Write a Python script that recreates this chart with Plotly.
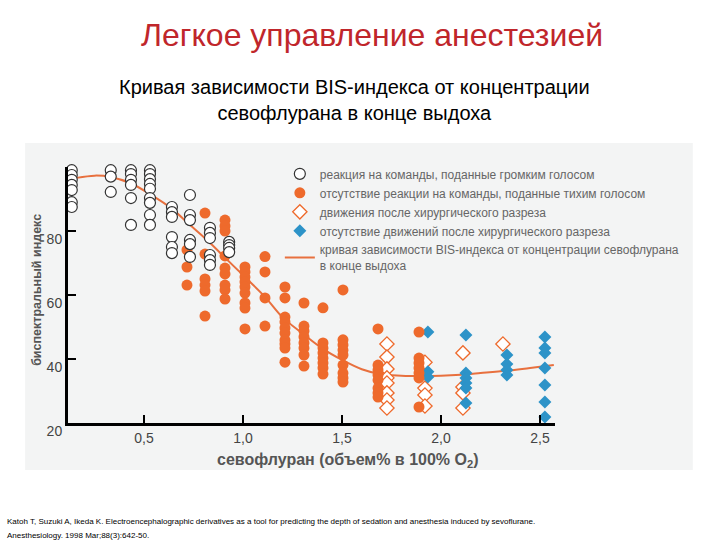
import plotly.graph_objects as go

# ---- data ----
open_x = [0.135]*7 + [0.332]*3 + [0.434]*6 + [0.53]*9 + [0.641]*6 + [0.732]*6 + [0.833]*6 + [0.93]*4
open_y = [99, 97.5, 96, 94.4, 92.8, 89, 87.5,
          99, 97, 92.2,
          99, 97.8, 96, 94.4, 90.3, 81.9,
          99, 97.8, 96.2, 94.7, 93.2, 90.3, 88.8, 85, 81.9,
          87.5, 85.9, 84.4, 78.1, 75, 73.1,
          91.25, 85, 83.4, 77.2, 75.9, 71.9,
          81, 79.4, 77.8, 72.5, 70.9, 69.4,
          76.6, 75.6, 74.7, 73.4]

fill_x = ([0.717]*3 + [0.808]*6 + [0.909]*9 + [1.01]*9 + [1.111]*4 + [1.212]*10 +
          [1.308]*8 + [1.404]*8 + [1.505]*9 + [1.682]*8 + [1.889]*7)
fill_y = [74.1, 68.75, 63.1,
          85.6, 72.8, 65, 63.1, 61.25, 53.4,
          83.4, 81.6, 80, 72.2, 68.4, 66.6, 63.1, 61.6, 58.75,
          68.75, 67.2, 65.6, 64.1, 62.5, 60.6, 57.5, 55.9, 49.4,
          72, 67.2, 59.1, 50.3,
          62.5, 59.1, 53.1, 51.6, 49.7, 48.1, 45.9, 44.7, 43.4, 39,
          57.5, 50.3, 48.75, 46.9, 45, 43.4, 41.25, 37.8,
          56, 45, 43.4, 41.9, 40.3, 38.75, 37.2, 35.3,
          61.6, 46, 44.4, 42.8, 41.25, 38.1, 35.6, 34.1, 32.8,
          49.4, 38.1, 36.6, 35, 33.4, 30.9, 29.4, 28.1,
          48.4, 40.3, 38.75, 37.2, 35.6, 34.1, 25]

odia_x = [1.727]*8 + [1.919]*4 + [2.111]*4 + [2.313]
odia_y = [44.7, 40.6, 36.9, 34.1, 32.5, 29.4, 27.2, 24.7,
          39, 30.9, 28.75, 25.3,
          41.9, 31.25, 29.4, 24.7,
          44.7]

blue_x = [1.934]*3 + [2.126]*6 + [2.333]*4 + [2.525]*7
blue_y = [48.4, 36, 34.4,
          47.5, 35.6, 34.1, 32.5, 30.9, 26.25,
          41.25, 38.4, 36.6, 35,
          46.9, 43.4, 41.9, 37.2, 31.9, 26.6, 21.9]

curve_x = [0.16, 0.25, 0.33, 0.43, 0.53, 0.64, 0.73, 0.83, 0.92, 1.01, 1.11, 1.2, 1.3,
           1.4, 1.5, 1.6, 1.7, 1.8, 1.9, 2.0, 2.1, 2.2, 2.33, 2.45, 2.57]
curve_y = [96.6, 97.3, 96.9, 95, 91.5, 87, 82, 76.5, 71, 65.6, 59.5, 53, 48,
           43.3, 39.7, 36.8, 35.2, 34.8, 34.7, 34.8, 35.1, 35.6, 36.3, 37.2, 38.1]

y_ticks = [20, 40, 60, 80, 100]
y_ticktext = ["20", "40", "60", "80", ""]
x_ticks = [0.5, 1.0, 1.5, 2.0, 2.5]
x_ticktext = ["0,5", "1,0", "1,5", "2,0", "2,5"]

names = ["реакция на команды, поданные громким голосом",
         "отсутствие реакции на команды, поданные тихим голосом",
         "движения после хирургического разреза",
         "отсутствие движений после хирургического разреза",
         "кривая зависимости BIS-индекса от концентрации севофлурана<br>в конце выдоха"]

ORANGE = "#ee6a2c"
BLUE = "#2d93c8"

fig = go.Figure()
fig.add_trace(go.Scatter(x=curve_x, y=curve_y, mode="lines", name=names[4], legendrank=5,
                         line=dict(color="#e8703e", width=2, shape="spline"), cliponaxis=False))
fig.add_trace(go.Scatter(x=odia_x, y=odia_y, mode="markers", name=names[2], legendrank=3,
                         marker=dict(symbol="diamond", size=11, color="white",
                                     line=dict(color=ORANGE, width=1.3)), cliponaxis=False))
fig.add_trace(go.Scatter(x=blue_x, y=blue_y, mode="markers", name=names[3], legendrank=4,
                         marker=dict(symbol="diamond", size=10, color=BLUE,
                                     line=dict(width=0)), cliponaxis=False))
fig.add_trace(go.Scatter(x=fill_x, y=fill_y, mode="markers", name=names[1], legendrank=2,
                         marker=dict(symbol="circle", size=11, color=ORANGE,
                                     line=dict(width=0)), cliponaxis=False))
fig.add_trace(go.Scatter(x=open_x, y=open_y, mode="markers", name=names[0], legendrank=1,
                         marker=dict(symbol="circle", size=11, color="white",
                                     line=dict(color="#333333", width=1.2)), cliponaxis=False))

tickfont = dict(family="Liberation Sans, Arial, sans-serif", size=14, color="#444444")

fig.update_layout(
    width=720, height=540,
    margin=dict(l=68, r=165, t=167, b=117, autoexpand=False),
    paper_bgcolor="white", plot_bgcolor="rgba(0,0,0,0)",
    showlegend=True,
    legend=dict(x=0.435, y=1.03, xanchor="left", yanchor="top", bgcolor="rgba(0,0,0,0)",
                font=dict(family="Liberation Sans, Arial, sans-serif", size=12, color="#666666"),
                tracegroupgap=0, itemwidth=30),
    xaxis=dict(range=[0.116, 2.576], showline=True, linewidth=3, linecolor="black",
               ticks="inside", ticklen=8, tickwidth=1.5, tickcolor="black",
               tickvals=x_ticks, ticktext=x_ticktext, tickfont=tickfont,
               showgrid=False, zeroline=False, automargin=False),
    yaxis=dict(range=[20, 100], showline=True, linewidth=3, linecolor="black",
               ticks="inside", ticklen=8, tickwidth=1.5, tickcolor="black",
               tickvals=y_ticks, ticktext=y_ticktext, tickfont=tickfont, ticklabelshift=8,
               showgrid=False, zeroline=False, automargin=False),
    shapes=[dict(type="rect", xref="paper", yref="paper", x0=-0.088, x1=1.283, y0=-0.184, y1=1.094,
                 fillcolor="#f3f4f4", line=dict(width=0), layer="below")],
    annotations=[
        dict(text="Легкое управление анестезией", xref="paper", yref="paper", x=0.624, y=1.516,
             xanchor="center", yanchor="middle", showarrow=False,
             font=dict(family="Liberation Sans, Arial, sans-serif", size=32, color="#c0262b")),
        dict(text="Кривая зависимости BIS-индекса от концентрации<br>севофлурана в конце выдоха",
             xref="paper", yref="paper", x=0.589, y=1.262, xanchor="center", yanchor="middle",
             showarrow=False, font=dict(family="Liberation Sans, Arial, sans-serif", size=20, color="black")),
        dict(text="<b>севофлуран (объем% в 100% O<sub>2</sub>)</b>", xref="paper", yref="paper",
             x=0.575, y=-0.148, xanchor="center", yanchor="middle", showarrow=False,
             font=dict(family="Liberation Sans, Arial, sans-serif", size=16, color="#555555")),
        dict(text="<b>биспектральный индекс</b>", xref="paper", yref="paper", textangle=-90,
             x=-0.0637, y=0.52, xanchor="center", yanchor="middle", showarrow=False,
             font=dict(family="Liberation Sans, Arial, sans-serif", size=12.5, color="#555555")),
        dict(text="Katoh T, Suzuki A, Ikeda K. Electroencephalographic derivatives as a tool for predicting the depth of sedation and anesthesia induced by sevoflurane.",
             xref="paper", yref="paper", x=-0.129, y=-0.383, xanchor="left", yanchor="middle",
             showarrow=False, font=dict(family="Liberation Sans, Arial, sans-serif", size=8, color="black")),
        dict(text="Anesthesiology. 1998 Mar;88(3):642-50.",
             xref="paper", yref="paper", x=-0.129, y=-0.4375, xanchor="left", yanchor="middle",
             showarrow=False, font=dict(family="Liberation Sans, Arial, sans-serif", size=8, color="black")),
    ],
)

fig.write_html("out.html", config={"displayModeBar": False},
               post_script="document.body.style.margin='0px';")
